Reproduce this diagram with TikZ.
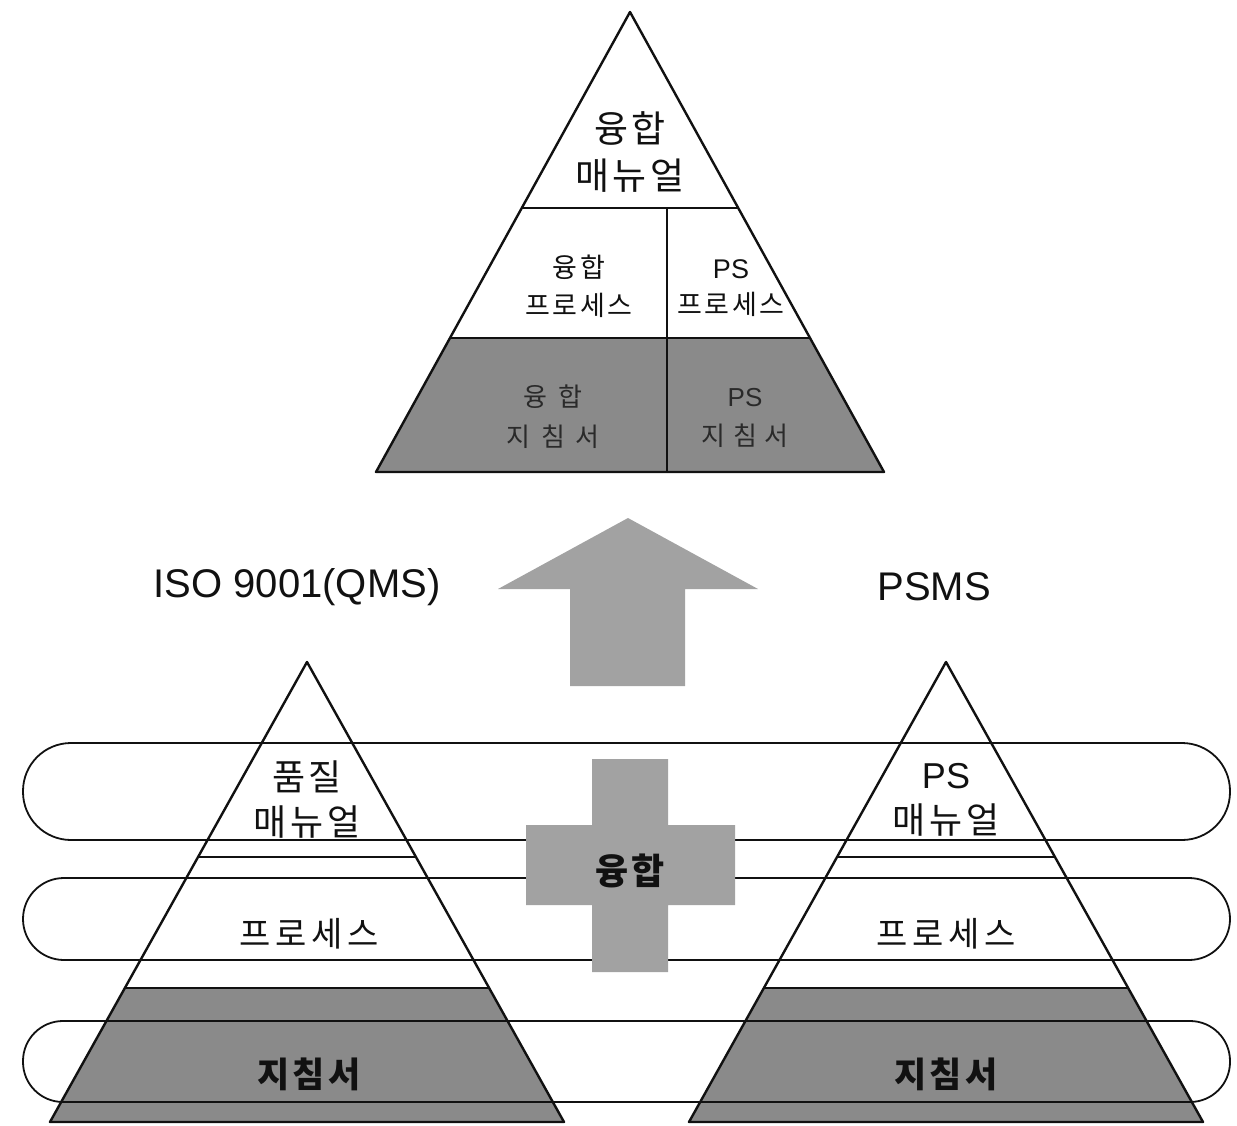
\documentclass[tikz,border=0pt]{standalone}
\usepackage{fontspec}
\setmainfont{Liberation Sans}
\newfontfamily\krfont[LetterSpace=10]{Noto Sans CJK KR}
\usetikzlibrary{calc}
\definecolor{InkBlack}{HTML}{111111}
\definecolor{ScreenGray}{HTML}{8A8A8A}
\definecolor{ArrowGray}{HTML}{A2A2A2}
\definecolor{DimInk}{HTML}{2A2A2A}

\begin{document}
\begin{tikzpicture}[x=1pt, y=-1pt,
  edge/.style={draw=InkBlack, line width=2.4pt, line join=round},
  band/.style={draw=InkBlack, line width=1.8pt},
  krlabel/.style={align=center, text=InkBlack, inner sep=0pt}]
  \useasboundingbox (0,0) rectangle (1237,1126);

  % merged pyramid on top
  \coordinate (mTop) at (630,12);
  \coordinate (mL) at (376,472);
  \coordinate (mR) at (884,472);
  \fill[ScreenGray] ($(mTop)!0.709!(mL)$) -- ($(mTop)!0.709!(mR)$) -- (mR) -- (mL) -- cycle;
  \draw[edge] (mTop) -- (mR) -- (mL) -- cycle;
  \draw[edge] ($(mTop)!0.426!(mL)$) -- ($(mTop)!0.426!(mR)$);
  \draw[edge] ($(mTop)!0.709!(mL)$) -- ($(mTop)!0.709!(mR)$);
  \draw[edge] (667,208) -- (667,472);
  \node[krlabel, font=\krfont\fontsize{37pt}{47pt}\selectfont] (mManual) at (630,152) {융합\\매뉴얼};
  \node[krlabel, font=\krfont\fontsize{27pt}{38pt}\selectfont] (mProc) at (579,286) {융합\\프로세스};
  \node[krlabel, font=\krfont\fontsize{27pt}{36pt}\selectfont] (psProc) at (731,288) {{\rmfamily PS}\\프로세스};
  \node[krlabel, text=DimInk, font=\krfont\addfontfeature{LetterSpace=40}\fontsize{26pt}{40pt}\selectfont] (mGuide) at (553,417) {융합\\지침서};
  \node[krlabel, text=DimInk, font=\krfont\addfontfeature{LetterSpace=30}\fontsize{26pt}{39pt}\selectfont] (psGuide) at (745,418) {{\rmfamily PS}\\지침서};

  % system names
  \node[text=InkBlack, font=\fontsize{40pt}{40pt}\selectfont] (qms) at (297,587) {ISO 9001(QMS)};
  \node[text=InkBlack, font=\fontsize{40pt}{40pt}\selectfont] (psms) at (934,587) {PSMS};

  % the two source pyramids
  \foreach \c/\n in {307/q, 946/p}{
    \coordinate (\n Top) at (\c,662);
    \coordinate (\n L) at (\c-257,1122);
    \coordinate (\n R) at (\c+257,1122);
    \fill[ScreenGray] ($(\n Top)!0.709!(\n L)$) -- ($(\n Top)!0.709!(\n R)$) -- (\n R) -- (\n L) -- cycle;
    \draw[edge] (\n Top) -- (\n R) -- (\n L) -- cycle;
    \draw[edge] ($(\n Top)!0.424!(\n L)$) -- ($(\n Top)!0.424!(\n R)$);
    \draw[edge] ($(\n Top)!0.709!(\n L)$) -- ($(\n Top)!0.709!(\n R)$);
  }
  \node[krlabel, font=\krfont\fontsize{36pt}{45pt}\selectfont] (qManual) at (307,800) {품질\\매뉴얼};
  \node[krlabel, font=\krfont\fontsize{36pt}{45pt}\selectfont] (pManual) at (946,800) {{\rmfamily PS}\\매뉴얼};
  \foreach \c/\n in {309/q, 946/p}{
    \node[krlabel, font=\krfont\addfontfeature{LetterSpace=14}\fontsize{34pt}{34pt}\selectfont] (\n Proc) at (\c,934) {프로세스};
    \node[krlabel, font=\krfont\bfseries\fontsize{35pt}{35pt}\selectfont] (\n Guide) at (\c,1074) {지침서};
  }

  % layer bands across both
  \foreach \t/\b/\r in {743/840/48, 878/960/41, 1021/1102/40}{
    \draw[band, rounded corners=\r] (23,\t) rectangle (1230,\b);
  }

  % merge cross and arrow
  \fill[ArrowGray] (592,759) -- (668,759) -- (668,825) -- (735,825) -- (735,905) -- (668,905)
    -- (668,972) -- (592,972) -- (592,905) -- (526,905) -- (526,825) -- (592,825) -- cycle;
  \node[krlabel, font=\krfont\bfseries\fontsize{36pt}{36pt}\selectfont] (merge) at (630,871) {융합};
  \fill[ArrowGray] (628,518) -- (758,589) -- (685,589) -- (685,686) -- (570,686) -- (570,589)
    -- (498,589) -- cycle;
\end{tikzpicture}
\end{document}
